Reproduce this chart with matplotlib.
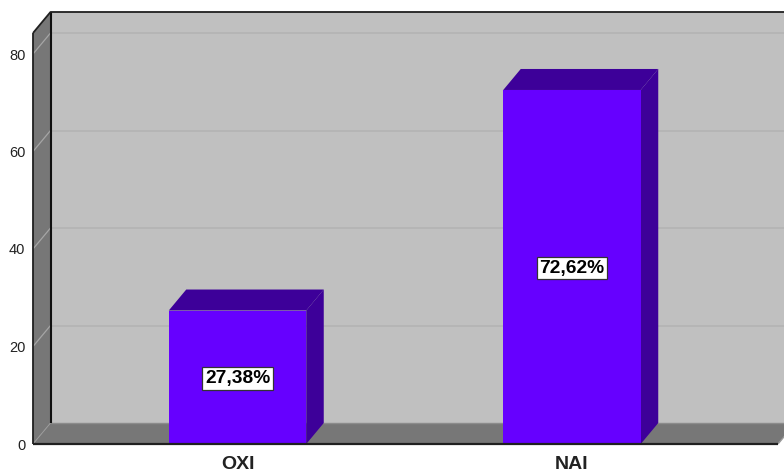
import matplotlib
matplotlib.use("Agg")
import matplotlib.pyplot as plt
from matplotlib.patches import Polygon

categories = ["OXI", "NAI"]
values = [27.38, 72.62]
value_labels = ["27,38%", "72,62%"]
y_ticks = [0, 20, 40, 60, 80]

plt.rcParams['font.family'] = ['Liberation Sans', 'DejaVu Sans']
W, H = 784, 474
fig = plt.figure(figsize=(W / 100, H / 100), dpi=100, facecolor="white")
L, R, B, T = 33, 778, 444, 33
ax = fig.add_axes([L / W, (H - B) / H, (R - L) / W, (B - T) / H])

PX_X = 334.5       # pixels per category step
PX_Y = 97.5 / 20   # pixels per y unit
x0 = -(237.5 - L) / PX_X
x1 = x0 + (R - L) / PX_X
y1 = (B - T) / PX_Y
ax.set_xlim(x0, x1)
ax.set_ylim(0, y1)
DX, DY = 17.5 / PX_X, 21 / PX_Y

WALL, SIDE, GRID = "#c0c0c0", "#777777", "#b3b3b3"
FACE, DARK = "#6600ff", "#3d0099"

def poly(pts, fc, z, ec="none", lw=0):
    ax.add_patch(Polygon(pts, closed=True, facecolor=fc, edgecolor=ec, linewidth=lw,
                         zorder=z, clip_on=False))

def line(xs, ys, c, lw, z):
    ax.plot(xs, ys, color=c, lw=lw, zorder=z, clip_on=False, solid_capstyle="butt")

# walls and floor
poly([(x0 + DX, DY), (x1 + DX, DY), (x1 + DX, y1 + DY), (x0 + DX, y1 + DY)], WALL, 1)
poly([(x0, 0), (x0 + DX, DY), (x0 + DX, y1 + DY), (x0, y1)], SIDE, 1)
poly([(x0, 0), (x1, 0), (x1 + DX, DY), (x0 + DX, DY)], SIDE, 1)

# grid
for v in y_ticks[1:]:
    line([x0 + DX, x1 + DX], [v + DY, v + DY], GRID, 1.2, 2)
    line([x0, x0 + DX], [v, v + DY], "#a6a6a6", 0.9, 2)
line([x0, x0 + DX], [0, DY], "#9a9a9a", 0.7, 2)
line([x0 + DX, x1 + DX], [DY, DY], "#8c8c8c", 1.0, 2)

# frame
line([x0 + DX, x0 + DX], [DY, y1 + DY], "#101010", 1.5, 3)
line([x0, x0], [0, y1], "#202020", 1.3, 3)
line([x0, x0 + DX, x1 + DX], [y1, y1 + DY, y1 + DY], "#202020", 1.3, 3)
line([x0, x1], [0, 0], "#202020", 1.6, 6)
line([x1, x1 + DX], [0, DY], "#999999", 1.0, 3)

# bars
width = 137.5 / PX_X
xs = list(range(len(categories)))
ax.bar(xs, values, width=width, color=FACE, linewidth=0, zorder=5)
for x, v, lab in zip(xs, values, value_labels):
    l, r = x - width / 2, x + width / 2
    poly([(r, 0), (r + DX, DY), (r + DX, v + DY), (r, v)], DARK, 4)
    poly([(l, v), (r, v), (r + DX, v + DY), (l + DX, v + DY)], DARK, 4)
    ax.annotate(lab, (x, v / 2), xytext=(0, -0.8), textcoords="offset points",
                ha="center", va="center", fontsize=13.8, fontweight="bold",
                color="black", zorder=7,
                bbox=dict(boxstyle="square,pad=0.14", fc="white", ec="#333333", lw=0.9))

# axes
for s in ax.spines.values():
    s.set_visible(False)
ax.set_yticks(y_ticks)
ax.set_xticks(xs)
ax.set_xticklabels(categories, fontsize=14, fontweight="bold")
ax.tick_params(axis="y", length=0, pad=5.5, labelsize=10.5, labelcolor="#222222")
ax.tick_params(axis="x", length=0, pad=8.5, labelcolor="#222222")
ax.set_facecolor("none")
fig.savefig("out.png", dpi=100)
